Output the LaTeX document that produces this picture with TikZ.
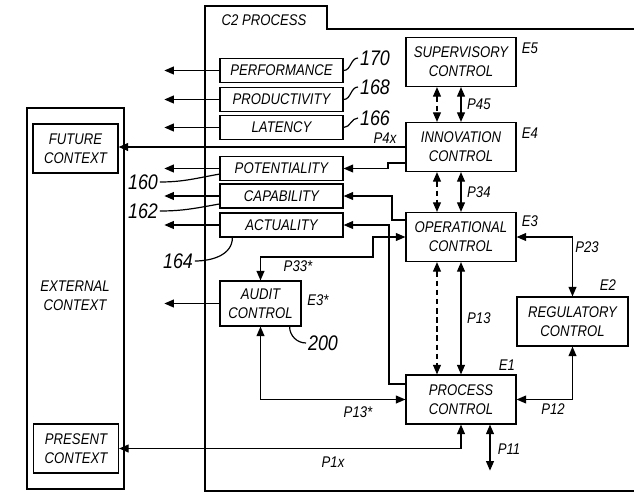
\documentclass[tikz,border=0pt]{standalone}
\usepackage{fontspec}
\setsansfont[FakeStretch=0.85]{Liberation Sans}
\usetikzlibrary{arrows.meta,calc}

\begin{document}
\begin{tikzpicture}[
  x=0.025cm, y=-0.025cm, line width=0.85pt,
  every node/.style={font=\sffamily\itshape\fontsize{11}{13.5}\selectfont},
  ctrl/.style={draw,minimum width=2.75cm,minimum height=1.225cm,inner sep=1pt,align=center},
  meas/.style={draw,minimum width=3.075cm,minimum height=0.6cm,inner sep=1pt},
  ctx/.style={draw,minimum width=2.125cm,minimum height=1.225cm,inner sep=1pt,align=center},
  lbl/.style={inner sep=1pt},
  num/.style={font=\sffamily\itshape\fontsize{15}{16}\selectfont,inner sep=1pt},
  arr/.style={-{Triangle[length=2.4mm,width=2mm]}},
  arr2/.style={{Triangle[length=2.4mm,width=2mm]}-{Triangle[length=2.4mm,width=2mm]}}
  ]
  \useasboundingbox (0,0) rectangle (634,494);
  % frames
  \draw (634,29) -- (327,29) -- (327,6) -- (205,6) -- (205,491) -- (634,491);
  \node[lbl] (c2) at (264,20) {C2 PROCESS};
  \draw (27,108) rectangle (124,489);
  \node[lbl,align=center] (ext) at (75,296) {EXTERNAL\\CONTEXT};
  \node[ctx] (future) at (75.5,148.5) {FUTURE\\CONTEXT};
  \node[ctx] (present) at (76,448.5) {PRESENT\\CONTEXT};
  % control elements
  \node[ctrl] (sup) at (461,62) {SUPERVISORY\\CONTROL};
  \node[ctrl] (innov) at (461,147) {INNOVATION\\CONTROL};
  \node[ctrl] (oper) at (461,237) {OPERATIONAL\\CONTROL};
  \node[ctrl] (proc) at (461,399.5) {PROCESS\\CONTROL};
  \node[ctrl,minimum width=2.775cm] (reg) at (572.5,321.5) {REGULATORY\\CONTROL};
  \node[ctrl,minimum width=2.025cm,minimum height=1.125cm] (audit) at (260.5,303.5) {AUDIT\\CONTROL};
  \node[lbl] (e5) at (530,48) {E5};
  \node[lbl] (e4) at (530,133) {E4};
  \node[lbl] (e3) at (530,221) {E3};
  \node[lbl] (e2) at (608,285) {E2};
  \node[lbl] (e1) at (507,365) {E1};
  \node[lbl] (e3s) at (318,300) {E3*};
  % measures
  \foreach \n/\t/\y in {perf/PERFORMANCE/70.5, prod/PRODUCTIVITY/99.5, lat/LATENCY/127.5,
      pot/POTENTIALITY/168.5, cap/CAPABILITY/196, act/ACTUALITY/225}{
    \node[meas] (\n) at (281.5,\y) {\t};
    \draw[arr] (\n.west) -- ++(-55,0);
  }
  % reference numbers
  \node[num] (n170) at (375,58) {170};
  \node[num] (n168) at (375,87) {168};
  \node[num] (n166) at (375,118) {166};
  \draw (perf.east) to[out=0,in=180] (n170.west);
  \draw (prod.east) to[out=0,in=180] (n168.west);
  \draw (lat.east) to[out=0,in=180] (n166.west);
  \node[num] (n160) at (143,182) {160};
  \node[num] (n162) at (143,211) {162};
  \node[num] (n164) at (178,261) {164};
  \node[num] (n200) at (323,343) {200};
  \draw (n160.east) to[out=0,in=190] ([yshift=-0.14cm]pot.west);
  \draw (n162.east) to[out=0,in=190] ([yshift=-0.2cm]cap.west);
  \draw (n164.east) to[out=0,in=-90] ($(act.south west)+(13,0)$);
  \draw ($(audit.south east)+(-12,0)$) to[out=-90,in=180] (n200.west);
  % vertical links
  \foreach \a/\b/\p in {sup/innov/P45, innov/oper/P34, oper/proc/P13}{
    \draw[arr2,dash pattern=on 4pt off 2.5pt] ([xshift=-0.6cm]\a.south) -- ([xshift=-0.6cm]\b.north);
    \draw[arr2] (\a.south) -- node[lbl,right=3pt] {\p} (\b.north);
  }
  % outputs
  \draw[arr] (innov.west) -- (innov.west -| future.east);
  \node[lbl] (p4x) at (385,138) {P4x};
  \draw[arr] (innov.west |- 0,163) -- (388,163) |- (pot.east);
  \draw[arr] (oper.west |- 0,220) -- (392,220) |- (cap.east);
  \draw[arr] (proc.west |- 0,384) -- (389,384) |- (act.east);
  \draw[arr] (audit.west) -- ++(-55,0);
  % paired links
  \draw[arr2] (audit.north) |- (373,257) |- (oper.west);
  \node[lbl] (p33s) at (298,266) {P33*};
  \draw[arr2] (audit.south) |- (proc.west);
  \node[lbl] (p13s) at (358,412) {P13*};
  \draw[arr2] (present.east) -| (proc.south);
  \node[lbl] (p1x) at (333,462) {P1x};
  \draw[arr2] ($(proc.south)+(29,0)$) -- ++(0,46) coordinate (p11end);
  \node[lbl] (p11) at (509,449) {P11};
  \draw[arr2] (proc.east) -| (reg.south);
  \node[lbl] (p12) at (553,409) {P12};
  \draw[arr2] (oper.east) -| (reg.north);
  \node[lbl] (p23) at (587,247) {P23};
\end{tikzpicture}
\end{document}
